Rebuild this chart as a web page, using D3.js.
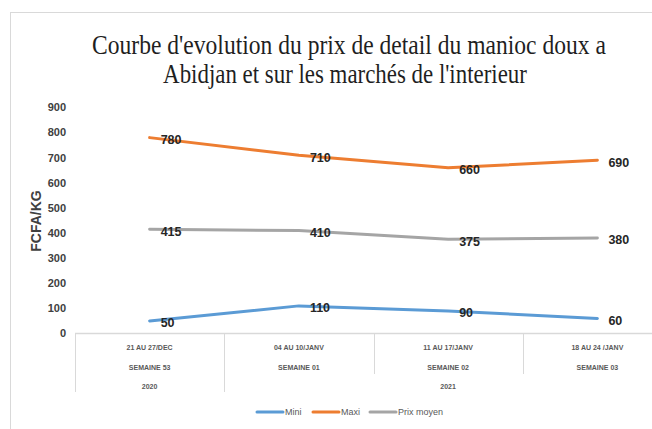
<!DOCTYPE html>
<html><head><meta charset="utf-8">
<script src="https://cdn.jsdelivr.net/npm/d3@7"></script>
<style>body{margin:0;background:#fff}svg{display:block}</style>
</head><body><svg id="c" width="652" height="429"></svg>
<script>
const weeks = ["21 AU 27/DEC", "04 AU 10/JANV", "11 AU 17/JANV", "18 AU 24 /JANV"];
const weekNums = ["SEMAINE 53", "SEMAINE 01", "SEMAINE 02", "SEMAINE 03"];
const years = [{label: "2020", from: 0, to: 0}, {label: "2021", from: 1, to: 3}];
const mini = [50, 110, 90, 60];
const maxi = [780, 710, 660, 690];
const moyen = [415, 410, 375, 380];
const yTicks = [0, 100, 200, 300, 400, 500, 600, 700, 800, 900];
const seriesNames = ["Mini", "Maxi", "Prix moyen"];
const colors = ["#5b9bd5", "#ed7d31", "#a5a5a5"];
const series = [mini, maxi, moyen];
const titleLines = ["Courbe d'evolution du prix de detail du manioc doux a",
                    "Abidjan et sur les marchés de l'interieur"];

const svg = d3.select("#c");
svg.append("rect").attr("x", 10.5).attr("y", 12.5).attr("width", 700).attr("height", 500)
  .attr("fill", "#fff").attr("stroke", "#d9d9d9");

// title (condensed serif look via horizontal scaling)
const titleSpec = [{cx: 349, y: 54, w: 514}, {cx: 345, y: 83, w: 364}];
titleLines.forEach((t, i) => {
  const el = svg.append("text").attr("text-anchor", "middle")
    .attr("font-family", "'Liberation Serif','DejaVu Serif',serif")
    .attr("font-size", 27).attr("fill", "#1f1f1f").text(t);
  const natural = el.node().getComputedTextLength();
  const sx = titleSpec[i].w / natural;
  el.attr("transform", `translate(${titleSpec[i].cx},${titleSpec[i].y}) scale(${sx},1)`);
});

const x = d3.scaleBand().domain(d3.range(weeks.length)).range([75, 672]);
const y = d3.scaleLinear().domain([0, 900]).range([333.5, 107.5]);

// y ticks
svg.append("g").selectAll("text").data(yTicks).join("text")
  .attr("x", 66).attr("y", d => y(d)).attr("dy", "0.35em").attr("text-anchor", "end")
  .attr("font-family", "'Liberation Sans',Arial,sans-serif").attr("font-weight", "bold")
  .attr("font-size", 11).attr("fill", "#404040").text(d => d);

svg.append("text").attr("transform", "translate(41,221) rotate(-90)")
  .attr("text-anchor", "middle").attr("font-family", "'Liberation Sans',Arial,sans-serif")
  .attr("font-weight", "bold").attr("font-size", 14).attr("fill", "#404040").text("FCFA/KG");

// x axis line and separators
svg.append("line").attr("x1", 75).attr("x2", 672).attr("y1", 333.5).attr("y2", 333.5)
  .attr("stroke", "#d9d9d9").attr("stroke-width", 1.5);
const yearBounds = new Set([0]);
years.forEach(yr => yearBounds.add(yr.to + 1));
d3.range(weeks.length + 1).forEach(i => {
  const xx = Math.round(i < weeks.length ? x(i) : x(weeks.length - 1) + x.bandwidth()) + 0.5;
  svg.append("line").attr("x1", xx).attr("x2", xx).attr("y1", 334)
    .attr("y2", yearBounds.has(i) ? 392 : 374).attr("stroke", "#d9d9d9");
});
const catFont = "'Liberation Sans Narrow','Liberation Sans',Arial,sans-serif";
const gx = svg.append("g").attr("font-family", catFont).attr("font-size", 7)
  .attr("font-weight", "bold").attr("fill", "#595959").attr("text-anchor", "middle");
weeks.forEach((w, i) => {
  gx.append("text").attr("x", x(i) + x.bandwidth() / 2).attr("y", 349.5).text(w);
  gx.append("text").attr("x", x(i) + x.bandwidth() / 2).attr("y", 369.5).text(weekNums[i]);
});
years.forEach(yr => {
  const cx = (x(yr.from) + x(yr.to) + x.bandwidth()) / 2;
  gx.append("text").attr("x", cx).attr("y", 388.5).text(yr.label);
});

// lines
const line = d3.line().x((d, i) => x(i) + x.bandwidth() / 2).y(d => y(d));
series.forEach((s, k) => {
  svg.append("path").datum(s).attr("d", line).attr("fill", "none")
    .attr("stroke", colors[k]).attr("stroke-width", 3).attr("stroke-linecap", "round")
    .attr("stroke-linejoin", "round");
});
series.forEach((s, k) => {
  svg.append("g").selectAll("text").data(s).join("text")
    .attr("x", (d, i) => x(i) + x.bandwidth() / 2 + 11).attr("y", d => y(d) + 2)
    .attr("dy", "0.35em").attr("font-family", "'Liberation Sans',Arial,sans-serif")
    .attr("font-weight", "bold").attr("font-size", 12.5).attr("fill", "#262626")
    .text(d => d);
});

// legend
const legX = [257, 313, 370];
seriesNames.forEach((n, k) => {
  svg.append("line").attr("x1", legX[k]).attr("x2", legX[k] + 26).attr("y1", 412).attr("y2", 412)
    .attr("stroke", colors[k]).attr("stroke-width", 3).attr("stroke-linecap", "round");
  svg.append("text").attr("x", legX[k] + 28).attr("y", 412).attr("dy", "0.35em")
    .attr("font-family", catFont).attr("font-size", 9).attr("fill", "#595959").text(n);
});
</script></body></html>
